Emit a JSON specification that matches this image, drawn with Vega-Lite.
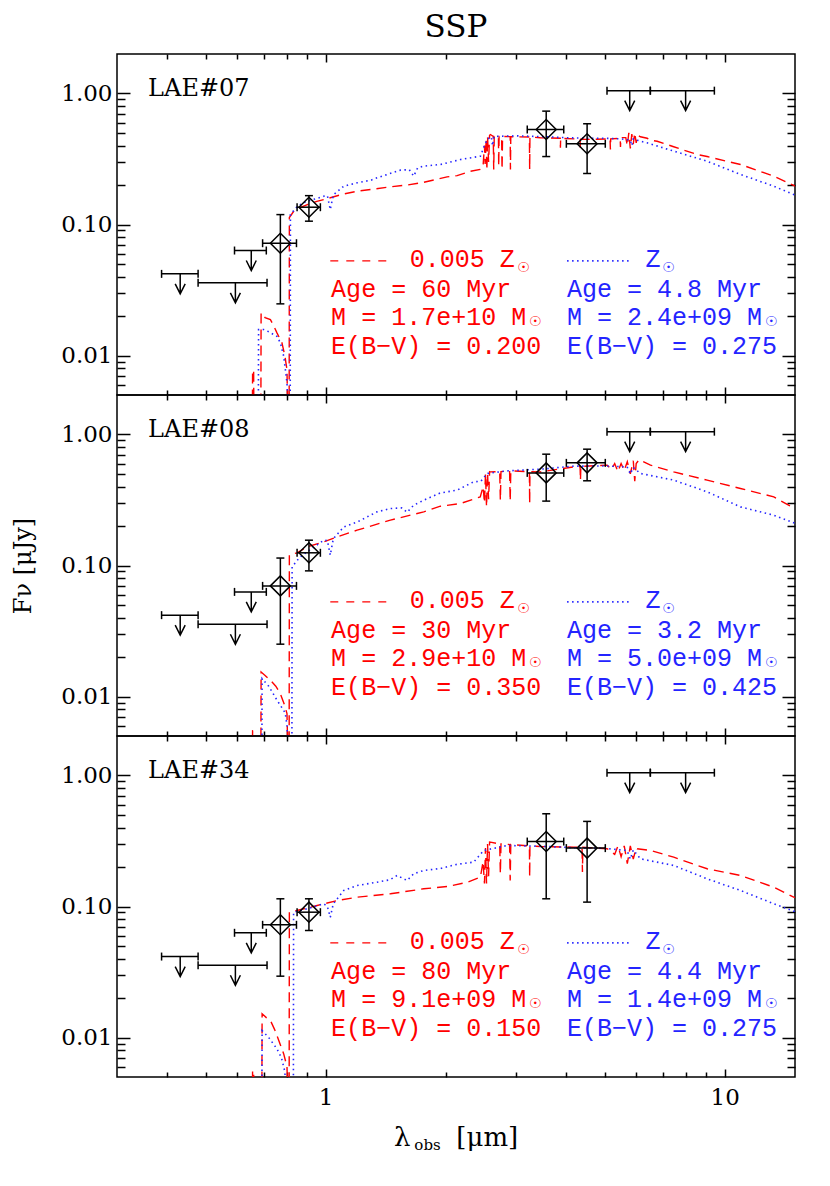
{
"$schema":"https://vega.github.io/schema/vega-lite/v6.json",
"background":"white",
"padding":{"left":11,"top":11,"right":34,"bottom":30},
"title":{"text":"SSP","font":"DejaVu Serif","fontSize":31,"fontWeight":"normal","color":"black","anchor":"middle","frame":"group","offset":9},
"spacing":0,
"bounds":"flush",
"config":{
 "view":{"stroke":"black","strokeWidth":1.5},
 "axis":{"grid":false,"domain":false,"ticks":true,"tickColor":"black","tickWidth":1.5,"labelFont":"DejaVu Serif","labelFontSize":23,"labelColor":"black","titleFont":"DejaVu Serif","titleFontSize":24,"titleFontWeight":"normal","titleColor":"black"}
},
"vconcat":[
{
 "width":678,"height":341,
 "resolve":{"axis":{"x":"independent","y":"independent"}},
 "data":{"values":[
  {"k":"d","x":0.770,"y":0.0720,"xlo":0.695,"xhi":0.845,"ylo":0.0248,"yhi":0.119},
  {"k":"d","x":0.908,"y":0.1355,"xlo":0.848,"xhi":0.970,"ylo":0.106,"yhi":0.166},
  {"k":"d","x":3.57,"y":0.531,"xlo":3.20,"xhi":3.95,"ylo":0.330,"yhi":0.733},
  {"k":"d","x":4.52,"y":0.413,"xlo":4.01,"xhi":5.02,"ylo":0.245,"yhi":0.587},
  {"k":"u","x":0.432,"y":0.042,"xlo":0.388,"xhi":0.479},
  {"k":"u","x":0.594,"y":0.0359,"xlo":0.479,"xhi":0.713},
  {"k":"u","x":0.651,"y":0.0633,"xlo":0.591,"xhi":0.710},
  {"k":"u","x":5.78,"y":1.05,"xlo":5.07,"xhi":6.51},
  {"k":"u","x":7.98,"y":1.05,"xlo":6.51,"xhi":9.42}
 ]},
 "layer":[
  {"data":{"values":[
   {"x":0.3,"y":0.003},{"x":0.655,"y":0.003},{"x":0.656,"y":0.0078},{"x":0.66,"y":0.0076},{"x":0.661,"y":0.003},{"x":0.688,"y":0.003},{"x":0.689,"y":0.0212},{"x":0.705,"y":0.0195},{"x":0.727,"y":0.0188},{"x":0.74,"y":0.017},{"x":0.755,"y":0.0149},{"x":0.777,"y":0.0125},{"x":0.79,"y":0.01},{"x":0.8,"y":0.0078},{"x":0.804,"y":0.003},{"x":0.81,"y":0.003},{"x":0.811,"y":0.1131},{"x":0.83,"y":0.125},{"x":0.848,"y":0.1318},{"x":0.9,"y":0.142},{"x":0.95,"y":0.15},{"x":0.989,"y":0.155},{"x":1.027,"y":0.16},{"x":1.1,"y":0.17},{"x":1.199,"y":0.1795},{"x":1.3,"y":0.185},{"x":1.453,"y":0.194},{"x":1.6,"y":0.2},{"x":1.761,"y":0.21},{"x":2.015,"y":0.231},{"x":2.135,"y":0.236},{"x":2.305,"y":0.255},{"x":2.44,"y":0.263},{"x":2.48,"y":0.279},{"x":2.5,"y":0.4},{"x":2.51,"y":0.29},{"x":2.525,"y":0.45},{"x":2.535,"y":0.26},{"x":2.545,"y":0.47},{"x":2.56,"y":0.3},{"x":2.575,"y":0.48},{"x":2.587,"y":0.486},{"x":2.63,"y":0.47},{"x":2.637,"y":0.263},{"x":2.645,"y":0.47},{"x":2.71,"y":0.47},{"x":2.714,"y":0.279},{"x":2.72,"y":0.47},{"x":2.76,"y":0.47},{"x":2.767,"y":0.263},{"x":2.775,"y":0.47},{"x":2.9,"y":0.468},{"x":2.904,"y":0.263},{"x":2.91,"y":0.468},{"x":3.24,"y":0.465},{"x":3.245,"y":0.263},{"x":3.25,"y":0.465},{"x":3.45,"y":0.459},{"x":3.87,"y":0.455},{"x":3.875,"y":0.385},{"x":3.88,"y":0.455},{"x":4.34,"y":0.448},{"x":4.347,"y":0.385},{"x":4.355,"y":0.448},{"x":4.52,"y":0.446},{"x":5.16,"y":0.45},{"x":5.17,"y":0.374},{"x":5.18,"y":0.45},{"x":5.47,"y":0.455},{"x":5.48,"y":0.39},{"x":5.49,"y":0.46},{"x":5.65,"y":0.46},{"x":5.7,"y":0.4},{"x":5.75,"y":0.5},{"x":5.8,"y":0.38},{"x":5.85,"y":0.49},{"x":5.9,"y":0.41},{"x":5.95,"y":0.5},{"x":6.0,"y":0.42},{"x":6.05,"y":0.48},{"x":6.148,"y":0.467},{"x":6.39,"y":0.455},{"x":6.515,"y":0.44},{"x":6.772,"y":0.432},{"x":7.45,"y":0.392},{"x":8.528,"y":0.342},{"x":9.035,"y":0.33},{"x":10.95,"y":0.287},{"x":13.27,"y":0.234},{"x":14.89,"y":0.1985},{"x":15.0,"y":0.196}
  ]},
  "mark":{"type":"line","color":"#ff0000","strokeWidth":1.4,"strokeDash":[10,6],"clip":true},
  "encoding":{
   "x":{"field":"x","type":"quantitative","scale":{"type":"log","domain":[0.3,15],"nice":false},"axis":{"orient":"bottom","values":[1,10],"tickSize":-8,"labels":false,"title":null}},
   "y":{"field":"y","type":"quantitative","scale":{"type":"log","domain":[0.005,2],"nice":false},"axis":{"orient":"left","values":[0.01,0.1,1],"tickSize":-13,"format":".2f","labelPadding":18,"title":null}}}},
  {"data":{"values":[
   {"x":0.3,"y":0.003},{"x":0.678,"y":0.003},{"x":0.679,"y":0.0158},{"x":0.699,"y":0.0158},{"x":0.72,"y":0.0152},{"x":0.755,"y":0.014},{"x":0.77,"y":0.0125},{"x":0.785,"y":0.0099},{"x":0.8,"y":0.0062},{"x":0.807,"y":0.003},{"x":0.815,"y":0.003},{"x":0.816,"y":0.1193},{"x":0.85,"y":0.138},{"x":0.898,"y":0.1507},{"x":0.95,"y":0.158},{"x":0.989,"y":0.1644},{"x":1.01,"y":0.166},{"x":1.027,"y":0.13},{"x":1.045,"y":0.168},{"x":1.11,"y":0.196},{"x":1.199,"y":0.208},{"x":1.3,"y":0.218},{"x":1.345,"y":0.227},{"x":1.45,"y":0.245},{"x":1.539,"y":0.26},{"x":1.62,"y":0.262},{"x":1.662,"y":0.234},{"x":1.7,"y":0.27},{"x":1.761,"y":0.279},{"x":1.939,"y":0.287},{"x":2.176,"y":0.313},{"x":2.442,"y":0.332},{"x":2.5,"y":0.4},{"x":2.538,"y":0.446},{"x":2.6,"y":0.467},{"x":2.62,"y":0.4},{"x":2.64,"y":0.47},{"x":3.0,"y":0.475},{"x":3.5,"y":0.468},{"x":4.0,"y":0.46},{"x":4.5,"y":0.455},{"x":5.0,"y":0.455},{"x":5.5,"y":0.45},{"x":5.8,"y":0.44},{"x":5.85,"y":0.4},{"x":5.9,"y":0.45},{"x":6.148,"y":0.432},{"x":6.391,"y":0.42},{"x":7.45,"y":0.363},{"x":9.035,"y":0.304},{"x":10.95,"y":0.241},{"x":13.27,"y":0.196},{"x":14.89,"y":0.1694},{"x":15.0,"y":0.168}
  ]},
  "mark":{"type":"line","color":"#2424ff","strokeWidth":1.6,"strokeDash":[1.5,3.5],"clip":true},
  "encoding":{
   "x":{"field":"x","type":"quantitative","scale":{"type":"log","domain":[0.3,15],"nice":false},"axis":{"orient":"bottom","values":[0.4,0.5,0.6,0.7,0.8,0.9,2,3,4,5,6,7,8,9],"tickSize":-5,"labels":false,"title":null}},
   "y":{"field":"y","type":"quantitative","scale":{"type":"log","domain":[0.005,2],"nice":false},"axis":{"orient":"left","values":[0.006,0.007,0.008,0.009,0.02,0.03,0.04,0.05,0.06,0.07,0.08,0.09,0.2,0.3,0.4,0.5,0.6,0.7,0.8,0.9],"tickSize":-8,"labels":false,"title":null}}}},
  {"transform":[{"filter":"datum.k=='d'||datum.k=='u'"}],
   "mark":{"type":"rule","color":"black","strokeWidth":1.5},
   "encoding":{
    "x":{"field":"xlo","type":"quantitative","scale":{"type":"log","domain":[0.3,15],"nice":false},"axis":{"orient":"top","values":[1,10],"tickSize":-8,"labels":false,"title":null}},
    "x2":{"field":"xhi"},
    "y":{"field":"y","type":"quantitative","scale":{"type":"log","domain":[0.005,2],"nice":false},"axis":{"orient":"right","values":[0.01,0.1,1],"tickSize":-13,"labels":false,"title":null}}}},
  {"transform":[{"filter":"datum.k=='d'"}],
   "mark":{"type":"rule","color":"black","strokeWidth":1.5},
   "encoding":{
    "x":{"field":"x","type":"quantitative","scale":{"type":"log","domain":[0.3,15],"nice":false},"axis":{"orient":"top","values":[0.4,0.5,0.6,0.7,0.8,0.9,2,3,4,5,6,7,8,9],"tickSize":-5,"labels":false,"title":null}},
    "y":{"field":"ylo","type":"quantitative","scale":{"type":"log","domain":[0.005,2],"nice":false},"axis":{"orient":"right","values":[0.006,0.007,0.008,0.009,0.02,0.03,0.04,0.05,0.06,0.07,0.08,0.09,0.2,0.3,0.4,0.5,0.6,0.7,0.8,0.9],"tickSize":-8,"labels":false,"title":null}},
    "y2":{"field":"yhi"}}},
  {"transform":[{"filter":"datum.k=='d'||datum.k=='u'"}],
   "mark":{"type":"point","shape":"M0,-1L0,1","size":64,"filled":false,"color":"black","strokeWidth":1.5,"opacity":1},
   "encoding":{"x":{"field":"xlo","type":"quantitative","scale":{"type":"log","domain":[0.3,15],"nice":false},"axis":null},"y":{"field":"y","type":"quantitative","scale":{"type":"log","domain":[0.005,2],"nice":false},"axis":null}}},
  {"transform":[{"filter":"datum.k=='d'||datum.k=='u'"}],
   "mark":{"type":"point","shape":"M0,-1L0,1","size":64,"filled":false,"color":"black","strokeWidth":1.5,"opacity":1},
   "encoding":{"x":{"field":"xhi","type":"quantitative","scale":{"type":"log","domain":[0.3,15],"nice":false},"axis":null},"y":{"field":"y","type":"quantitative","scale":{"type":"log","domain":[0.005,2],"nice":false},"axis":null}}},
  {"transform":[{"filter":"datum.k=='d'"}],
   "mark":{"type":"point","shape":"M-1,0L1,0","size":64,"filled":false,"color":"black","strokeWidth":1.5,"opacity":1},
   "encoding":{"x":{"field":"x","type":"quantitative","scale":{"type":"log","domain":[0.3,15],"nice":false},"axis":null},"y":{"field":"ylo","type":"quantitative","scale":{"type":"log","domain":[0.005,2],"nice":false},"axis":null}}},
  {"transform":[{"filter":"datum.k=='d'"}],
   "mark":{"type":"point","shape":"M-1,0L1,0","size":64,"filled":false,"color":"black","strokeWidth":1.5,"opacity":1},
   "encoding":{"x":{"field":"x","type":"quantitative","scale":{"type":"log","domain":[0.3,15],"nice":false},"axis":null},"y":{"field":"yhi","type":"quantitative","scale":{"type":"log","domain":[0.005,2],"nice":false},"axis":null}}},
  {"transform":[{"filter":"datum.k=='d'"}],
   "mark":{"type":"point","shape":"diamond","size":400,"filled":false,"color":"black","strokeWidth":1.5,"opacity":1},
   "encoding":{"x":{"field":"x","type":"quantitative","scale":{"type":"log","domain":[0.3,15],"nice":false},"axis":null},"y":{"field":"y","type":"quantitative","scale":{"type":"log","domain":[0.005,2],"nice":false},"axis":null}}},
  {"transform":[{"filter":"datum.k=='u'"}],
   "mark":{"type":"point","shape":"M0,0L0,2M-0.5,1L0,2L0.5,1","size":400,"filled":false,"color":"black","strokeWidth":1.5,"opacity":1},
   "encoding":{"x":{"field":"x","type":"quantitative","scale":{"type":"log","domain":[0.3,15],"nice":false},"axis":null},"y":{"field":"y","type":"quantitative","scale":{"type":"log","domain":[0.005,2],"nice":false},"axis":null}}},
  {"data":{"values":[{"x":1.027,"y":0.0528},{"x":1.453,"y":0.0528}]},
   "mark":{"type":"line","color":"#ff0000","strokeWidth":1.4,"strokeDash":[8,8]},
   "encoding":{"x":{"field":"x","type":"quantitative","scale":{"type":"log","domain":[0.3,15],"nice":false},"axis":null},"y":{"field":"y","type":"quantitative","scale":{"type":"log","domain":[0.005,2],"nice":false},"axis":null}}},
  {"data":{"values":[{"x":4.027,"y":0.0528},{"x":5.747,"y":0.0528}]},
   "mark":{"type":"line","color":"#2424ff","strokeWidth":1.6,"strokeDash":[1.5,3.5]},
   "encoding":{"x":{"field":"x","type":"quantitative","scale":{"type":"log","domain":[0.3,15],"nice":false},"axis":null},"y":{"field":"y","type":"quantitative","scale":{"type":"log","domain":[0.005,2],"nice":false},"axis":null}}},
  {"data":{"values":[
   {"m":"r","x":1.624,"y":0.04754,"t":"0.005 Z"},{"m":"r","x":1.032,"y":0.02821,"t":"Age = 60 Myr"},{"m":"r","x":1.032,"y":0.01725,"t":"M = 1.7e+10 M"},{"m":"r","x":1.032,"y":0.01036,"t":"E(B−V) = 0.200"},
   {"m":"b","x":6.327,"y":0.04754,"t":"Z"},{"m":"b","x":4.027,"y":0.02821,"t":"Age = 4.8 Myr"},{"m":"b","x":4.027,"y":0.01725,"t":"M = 2.4e+09 M"},{"m":"b","x":4.027,"y":0.01036,"t":"E(B−V) = 0.275"}
  ]},
   "mark":{"type":"text","font":"Liberation Mono","fontSize":25,"align":"left","baseline":"alphabetic"},
   "encoding":{"x":{"field":"x","type":"quantitative","scale":{"type":"log","domain":[0.3,15],"nice":false},"axis":null},"y":{"field":"y","type":"quantitative","scale":{"type":"log","domain":[0.005,2],"nice":false},"axis":null},"text":{"field":"t","type":"nominal"},
    "color":{"field":"m","type":"nominal","scale":{"domain":["r","b"],"range":["#ff0000","#2424ff"]},"legend":null}}},
  {"data":{"values":[{"m":"r","x":3.13,"y":0.04695},{"m":"r","x":3.354,"y":0.0179},{"m":"b","x":7.226,"y":0.04695},{"m":"b","x":13.09,"y":0.0179}]},
   "mark":{"type":"text","text":"☉","font":"DejaVu Sans","fontSize":14,"align":"center","baseline":"middle"},
   "encoding":{"x":{"field":"x","type":"quantitative","scale":{"type":"log","domain":[0.3,15],"nice":false},"axis":null},"y":{"field":"y","type":"quantitative","scale":{"type":"log","domain":[0.005,2],"nice":false},"axis":null},
    "color":{"field":"m","type":"nominal","scale":{"domain":["r","b"],"range":["#ff0000","#2424ff"]},"legend":null}}},
  {"data":{"values":[{"x":0.359,"y":0.95,"t":"LAE#07"}]},
   "mark":{"type":"text","font":"DejaVu Serif","fontSize":24,"align":"left","baseline":"alphabetic","color":"black"},
   "encoding":{"x":{"field":"x","type":"quantitative","scale":{"type":"log","domain":[0.3,15],"nice":false},"axis":null},"y":{"field":"y","type":"quantitative","scale":{"type":"log","domain":[0.005,2],"nice":false},"axis":null},"text":{"field":"t","type":"nominal"}}}
 ]
},
{
 "width":678,"height":341,
 "resolve":{"axis":{"x":"independent","y":"independent"}},
 "data":{"values":[
  {"k":"d","x":0.770,"y":0.0699,"xlo":0.695,"xhi":0.845,"ylo":0.0251,"yhi":0.114},
  {"k":"d","x":0.908,"y":0.125,"xlo":0.848,"xhi":0.970,"ylo":0.091,"yhi":0.156},
  {"k":"d","x":3.57,"y":0.509,"xlo":3.20,"xhi":3.95,"ylo":0.310,"yhi":0.707},
  {"k":"d","x":4.52,"y":0.607,"xlo":4.01,"xhi":5.02,"ylo":0.443,"yhi":0.772},
  {"k":"u","x":0.432,"y":0.0418,"xlo":0.388,"xhi":0.479},
  {"k":"u","x":0.594,"y":0.0356,"xlo":0.479,"xhi":0.713},
  {"k":"u","x":0.651,"y":0.0629,"xlo":0.591,"xhi":0.710},
  {"k":"u","x":5.78,"y":1.05,"xlo":5.07,"xhi":6.51},
  {"k":"u","x":7.98,"y":1.05,"xlo":6.51,"xhi":9.42}
 ]},
 "layer":[
  {"data":{"values":[
   {"x":0.3,"y":0.003},{"x":0.655,"y":0.003},{"x":0.656,"y":0.0055},{"x":0.66,"y":0.0055},{"x":0.661,"y":0.003},{"x":0.688,"y":0.003},{"x":0.689,"y":0.0154},{"x":0.705,"y":0.0145},{"x":0.727,"y":0.0133},{"x":0.75,"y":0.012},{"x":0.77,"y":0.0105},{"x":0.79,"y":0.0085},{"x":0.8,"y":0.0074},{"x":0.805,"y":0.003},{"x":0.81,"y":0.003},{"x":0.811,"y":0.12},{"x":0.848,"y":0.125},{"x":0.898,"y":0.1387},{"x":0.989,"y":0.1514},{"x":1.068,"y":0.1653},{"x":1.199,"y":0.186},{"x":1.453,"y":0.222},{"x":1.761,"y":0.2566},{"x":1.939,"y":0.2835},{"x":2.176,"y":0.297},{"x":2.44,"y":0.334},{"x":2.48,"y":0.4},{"x":2.5,"y":0.3},{"x":2.515,"y":0.5},{"x":2.53,"y":0.28},{"x":2.545,"y":0.51},{"x":2.56,"y":0.32},{"x":2.575,"y":0.52},{"x":2.587,"y":0.518},{"x":2.73,"y":0.52},{"x":2.74,"y":0.315},{"x":2.75,"y":0.52},{"x":2.89,"y":0.527},{"x":2.9,"y":0.31},{"x":2.91,"y":0.527},{"x":3.24,"y":0.52},{"x":3.245,"y":0.297},{"x":3.25,"y":0.52},{"x":3.452,"y":0.518},{"x":4.183,"y":0.566},{"x":4.34,"y":0.57},{"x":4.35,"y":0.448},{"x":4.36,"y":0.57},{"x":5.075,"y":0.583},{"x":5.2,"y":0.54},{"x":5.3,"y":0.6},{"x":5.4,"y":0.52},{"x":5.5,"y":0.6},{"x":5.6,"y":0.53},{"x":5.7,"y":0.62},{"x":5.8,"y":0.5},{"x":5.9,"y":0.63},{"x":5.95,"y":0.44},{"x":6.0,"y":0.6},{"x":6.1,"y":0.64},{"x":6.148,"y":0.637},{"x":6.515,"y":0.583},{"x":7.45,"y":0.518},{"x":9.035,"y":0.448},{"x":10.95,"y":0.387},{"x":13.27,"y":0.334},{"x":14.61,"y":0.2835},{"x":15.0,"y":0.275}
  ]},
  "mark":{"type":"line","color":"#ff0000","strokeWidth":1.4,"strokeDash":[10,6],"clip":true},
  "encoding":{
   "x":{"field":"x","type":"quantitative","scale":{"type":"log","domain":[0.3,15],"nice":false},"axis":{"orient":"bottom","values":[1,10],"tickSize":-8,"labels":false,"title":null}},
   "y":{"field":"y","type":"quantitative","scale":{"type":"log","domain":[0.005,2],"nice":false},"axis":{"orient":"left","values":[0.01,0.1,1],"tickSize":-13,"format":".2f","labelPadding":18,"title":"Fν [μJy]","titlePadding":25}}}},
  {"data":{"values":[
   {"x":0.3,"y":0.003},{"x":0.692,"y":0.003},{"x":0.693,"y":0.0137},{"x":0.72,"y":0.012},{"x":0.755,"y":0.0094},{"x":0.792,"y":0.0075},{"x":0.8,"y":0.006},{"x":0.807,"y":0.003},{"x":0.823,"y":0.003},{"x":0.824,"y":0.0976},{"x":0.86,"y":0.115},{"x":0.898,"y":0.127},{"x":0.95,"y":0.143},{"x":0.989,"y":0.156},{"x":1.01,"y":0.155},{"x":1.027,"y":0.12},{"x":1.045,"y":0.16},{"x":1.11,"y":0.197},{"x":1.2,"y":0.215},{"x":1.345,"y":0.2566},{"x":1.453,"y":0.272},{"x":1.55,"y":0.275},{"x":1.6,"y":0.255},{"x":1.662,"y":0.2886},{"x":1.761,"y":0.315},{"x":1.939,"y":0.358},{"x":2.135,"y":0.376},{"x":2.349,"y":0.435},{"x":2.45,"y":0.44},{"x":2.538,"y":0.504},{"x":2.849,"y":0.527},{"x":3.5,"y":0.545},{"x":4.183,"y":0.573},{"x":5.0,"y":0.575},{"x":5.692,"y":0.566},{"x":5.8,"y":0.5},{"x":5.9,"y":0.56},{"x":6.148,"y":0.504},{"x":7.45,"y":0.448},{"x":9.035,"y":0.365},{"x":10.95,"y":0.28},{"x":13.27,"y":0.242},{"x":14.89,"y":0.2115},{"x":15.0,"y":0.21}
  ]},
  "mark":{"type":"line","color":"#2424ff","strokeWidth":1.6,"strokeDash":[1.5,3.5],"clip":true},
  "encoding":{
   "x":{"field":"x","type":"quantitative","scale":{"type":"log","domain":[0.3,15],"nice":false},"axis":{"orient":"bottom","values":[0.4,0.5,0.6,0.7,0.8,0.9,2,3,4,5,6,7,8,9],"tickSize":-5,"labels":false,"title":null}},
   "y":{"field":"y","type":"quantitative","scale":{"type":"log","domain":[0.005,2],"nice":false},"axis":{"orient":"left","values":[0.006,0.007,0.008,0.009,0.02,0.03,0.04,0.05,0.06,0.07,0.08,0.09,0.2,0.3,0.4,0.5,0.6,0.7,0.8,0.9],"tickSize":-8,"labels":false,"title":null}}}},
  {"transform":[{"filter":"datum.k=='d'||datum.k=='u'"}],
   "mark":{"type":"rule","color":"black","strokeWidth":1.5},
   "encoding":{
    "x":{"field":"xlo","type":"quantitative","scale":{"type":"log","domain":[0.3,15],"nice":false},"axis":{"orient":"top","values":[1,10],"tickSize":-8,"labels":false,"title":null}},
    "x2":{"field":"xhi"},
    "y":{"field":"y","type":"quantitative","scale":{"type":"log","domain":[0.005,2],"nice":false},"axis":{"orient":"right","values":[0.01,0.1,1],"tickSize":-13,"labels":false,"title":null}}}},
  {"transform":[{"filter":"datum.k=='d'"}],
   "mark":{"type":"rule","color":"black","strokeWidth":1.5},
   "encoding":{
    "x":{"field":"x","type":"quantitative","scale":{"type":"log","domain":[0.3,15],"nice":false},"axis":{"orient":"top","values":[0.4,0.5,0.6,0.7,0.8,0.9,2,3,4,5,6,7,8,9],"tickSize":-5,"labels":false,"title":null}},
    "y":{"field":"ylo","type":"quantitative","scale":{"type":"log","domain":[0.005,2],"nice":false},"axis":{"orient":"right","values":[0.006,0.007,0.008,0.009,0.02,0.03,0.04,0.05,0.06,0.07,0.08,0.09,0.2,0.3,0.4,0.5,0.6,0.7,0.8,0.9],"tickSize":-8,"labels":false,"title":null}},
    "y2":{"field":"yhi"}}},
  {"transform":[{"filter":"datum.k=='d'||datum.k=='u'"}],
   "mark":{"type":"point","shape":"M0,-1L0,1","size":64,"filled":false,"color":"black","strokeWidth":1.5,"opacity":1},
   "encoding":{"x":{"field":"xlo","type":"quantitative","scale":{"type":"log","domain":[0.3,15],"nice":false},"axis":null},"y":{"field":"y","type":"quantitative","scale":{"type":"log","domain":[0.005,2],"nice":false},"axis":null}}},
  {"transform":[{"filter":"datum.k=='d'||datum.k=='u'"}],
   "mark":{"type":"point","shape":"M0,-1L0,1","size":64,"filled":false,"color":"black","strokeWidth":1.5,"opacity":1},
   "encoding":{"x":{"field":"xhi","type":"quantitative","scale":{"type":"log","domain":[0.3,15],"nice":false},"axis":null},"y":{"field":"y","type":"quantitative","scale":{"type":"log","domain":[0.005,2],"nice":false},"axis":null}}},
  {"transform":[{"filter":"datum.k=='d'"}],
   "mark":{"type":"point","shape":"M-1,0L1,0","size":64,"filled":false,"color":"black","strokeWidth":1.5,"opacity":1},
   "encoding":{"x":{"field":"x","type":"quantitative","scale":{"type":"log","domain":[0.3,15],"nice":false},"axis":null},"y":{"field":"ylo","type":"quantitative","scale":{"type":"log","domain":[0.005,2],"nice":false},"axis":null}}},
  {"transform":[{"filter":"datum.k=='d'"}],
   "mark":{"type":"point","shape":"M-1,0L1,0","size":64,"filled":false,"color":"black","strokeWidth":1.5,"opacity":1},
   "encoding":{"x":{"field":"x","type":"quantitative","scale":{"type":"log","domain":[0.3,15],"nice":false},"axis":null},"y":{"field":"yhi","type":"quantitative","scale":{"type":"log","domain":[0.005,2],"nice":false},"axis":null}}},
  {"transform":[{"filter":"datum.k=='d'"}],
   "mark":{"type":"point","shape":"diamond","size":400,"filled":false,"color":"black","strokeWidth":1.5,"opacity":1},
   "encoding":{"x":{"field":"x","type":"quantitative","scale":{"type":"log","domain":[0.3,15],"nice":false},"axis":null},"y":{"field":"y","type":"quantitative","scale":{"type":"log","domain":[0.005,2],"nice":false},"axis":null}}},
  {"transform":[{"filter":"datum.k=='u'"}],
   "mark":{"type":"point","shape":"M0,0L0,2M-0.5,1L0,2L0.5,1","size":400,"filled":false,"color":"black","strokeWidth":1.5,"opacity":1},
   "encoding":{"x":{"field":"x","type":"quantitative","scale":{"type":"log","domain":[0.3,15],"nice":false},"axis":null},"y":{"field":"y","type":"quantitative","scale":{"type":"log","domain":[0.005,2],"nice":false},"axis":null}}},
  {"data":{"values":[{"x":1.027,"y":0.0528},{"x":1.453,"y":0.0528}]},
   "mark":{"type":"line","color":"#ff0000","strokeWidth":1.4,"strokeDash":[8,8]},
   "encoding":{"x":{"field":"x","type":"quantitative","scale":{"type":"log","domain":[0.3,15],"nice":false},"axis":null},"y":{"field":"y","type":"quantitative","scale":{"type":"log","domain":[0.005,2],"nice":false},"axis":null}}},
  {"data":{"values":[{"x":4.027,"y":0.0528},{"x":5.747,"y":0.0528}]},
   "mark":{"type":"line","color":"#2424ff","strokeWidth":1.6,"strokeDash":[1.5,3.5]},
   "encoding":{"x":{"field":"x","type":"quantitative","scale":{"type":"log","domain":[0.3,15],"nice":false},"axis":null},"y":{"field":"y","type":"quantitative","scale":{"type":"log","domain":[0.005,2],"nice":false},"axis":null}}},
  {"data":{"values":[
   {"m":"r","x":1.624,"y":0.04754,"t":"0.005 Z"},{"m":"r","x":1.032,"y":0.02821,"t":"Age = 30 Myr"},{"m":"r","x":1.032,"y":0.01725,"t":"M = 2.9e+10 M"},{"m":"r","x":1.032,"y":0.01036,"t":"E(B−V) = 0.350"},
   {"m":"b","x":6.327,"y":0.04754,"t":"Z"},{"m":"b","x":4.027,"y":0.02821,"t":"Age = 3.2 Myr"},{"m":"b","x":4.027,"y":0.01725,"t":"M = 5.0e+09 M"},{"m":"b","x":4.027,"y":0.01036,"t":"E(B−V) = 0.425"}
  ]},
   "mark":{"type":"text","font":"Liberation Mono","fontSize":25,"align":"left","baseline":"alphabetic"},
   "encoding":{"x":{"field":"x","type":"quantitative","scale":{"type":"log","domain":[0.3,15],"nice":false},"axis":null},"y":{"field":"y","type":"quantitative","scale":{"type":"log","domain":[0.005,2],"nice":false},"axis":null},"text":{"field":"t","type":"nominal"},
    "color":{"field":"m","type":"nominal","scale":{"domain":["r","b"],"range":["#ff0000","#2424ff"]},"legend":null}}},
  {"data":{"values":[{"m":"r","x":3.13,"y":0.04695},{"m":"r","x":3.354,"y":0.0179},{"m":"b","x":7.226,"y":0.04695},{"m":"b","x":13.09,"y":0.0179}]},
   "mark":{"type":"text","text":"☉","font":"DejaVu Sans","fontSize":14,"align":"center","baseline":"middle"},
   "encoding":{"x":{"field":"x","type":"quantitative","scale":{"type":"log","domain":[0.3,15],"nice":false},"axis":null},"y":{"field":"y","type":"quantitative","scale":{"type":"log","domain":[0.005,2],"nice":false},"axis":null},
    "color":{"field":"m","type":"nominal","scale":{"domain":["r","b"],"range":["#ff0000","#2424ff"]},"legend":null}}},
  {"data":{"values":[{"x":0.359,"y":0.95,"t":"LAE#08"}]},
   "mark":{"type":"text","font":"DejaVu Serif","fontSize":24,"align":"left","baseline":"alphabetic","color":"black"},
   "encoding":{"x":{"field":"x","type":"quantitative","scale":{"type":"log","domain":[0.3,15],"nice":false},"axis":null},"y":{"field":"y","type":"quantitative","scale":{"type":"log","domain":[0.005,2],"nice":false},"axis":null},"text":{"field":"t","type":"nominal"}}}
 ]
},
{
 "width":678,"height":341,
 "resolve":{"axis":{"x":"independent","y":"independent"}},
 "data":{"values":[
  {"k":"d","x":0.770,"y":0.0725,"xlo":0.695,"xhi":0.845,"ylo":0.0294,"yhi":0.1145},
  {"k":"d","x":0.908,"y":0.0905,"xlo":0.848,"xhi":0.970,"ylo":0.0656,"yhi":0.1145},
  {"k":"d","x":3.57,"y":0.313,"xlo":3.20,"xhi":3.95,"ylo":0.1145,"yhi":0.510},
  {"k":"d","x":4.52,"y":0.279,"xlo":4.01,"xhi":5.02,"ylo":0.108,"yhi":0.446},
  {"k":"u","x":0.432,"y":0.0415,"xlo":0.388,"xhi":0.479},
  {"k":"u","x":0.594,"y":0.0356,"xlo":0.479,"xhi":0.713},
  {"k":"u","x":0.651,"y":0.063,"xlo":0.591,"xhi":0.710},
  {"k":"u","x":5.78,"y":1.05,"xlo":5.07,"xhi":6.51},
  {"k":"u","x":7.98,"y":1.05,"xlo":6.51,"xhi":9.42}
 ]},
 "layer":[
  {"data":{"values":[
   {"x":0.3,"y":0.003},{"x":0.655,"y":0.003},{"x":0.656,"y":0.0056},{"x":0.66,"y":0.0056},{"x":0.661,"y":0.003},{"x":0.692,"y":0.003},{"x":0.693,"y":0.0152},{"x":0.71,"y":0.0142},{"x":0.727,"y":0.0135},{"x":0.745,"y":0.0115},{"x":0.763,"y":0.0095},{"x":0.785,"y":0.0075},{"x":0.8,"y":0.006},{"x":0.805,"y":0.003},{"x":0.81,"y":0.003},{"x":0.811,"y":0.0905},{"x":0.848,"y":0.0932},{"x":0.952,"y":0.1018},{"x":1.068,"y":0.111},{"x":1.199,"y":0.1178},{"x":1.453,"y":0.125},{"x":1.761,"y":0.1365},{"x":2.015,"y":0.142},{"x":2.262,"y":0.153},{"x":2.442,"y":0.1675},{"x":2.48,"y":0.22},{"x":2.5,"y":0.15},{"x":2.515,"y":0.28},{"x":2.53,"y":0.15},{"x":2.545,"y":0.3},{"x":2.56,"y":0.17},{"x":2.575,"y":0.31},{"x":2.587,"y":0.3096},{"x":2.73,"y":0.3},{"x":2.74,"y":0.178},{"x":2.75,"y":0.3},{"x":2.89,"y":0.297},{"x":2.9,"y":0.158},{"x":2.91,"y":0.297},{"x":3.24,"y":0.29},{"x":3.245,"y":0.168},{"x":3.25,"y":0.29},{"x":3.452,"y":0.287},{"x":4.183,"y":0.2835},{"x":4.39,"y":0.283},{"x":4.4,"y":0.183},{"x":4.41,"y":0.283},{"x":5.075,"y":0.2758},{"x":5.3,"y":0.25},{"x":5.4,"y":0.29},{"x":5.5,"y":0.24},{"x":5.6,"y":0.29},{"x":5.7,"y":0.212},{"x":5.8,"y":0.29},{"x":5.9,"y":0.23},{"x":6.0,"y":0.28},{"x":6.032,"y":0.2758},{"x":6.515,"y":0.2677},{"x":7.45,"y":0.2378},{"x":9.035,"y":0.194},{"x":10.95,"y":0.1725},{"x":13.27,"y":0.1404},{"x":14.89,"y":0.1178},{"x":15.0,"y":0.117}
  ]},
  "mark":{"type":"line","color":"#ff0000","strokeWidth":1.4,"strokeDash":[10,6],"clip":true},
  "encoding":{
   "x":{"field":"x","type":"quantitative","scale":{"type":"log","domain":[0.3,15],"nice":false},"axis":{"orient":"bottom","values":[1,10],"tickSize":-8,"labels":true,"format":"d","labelPadding":17,"title":null}},
   "y":{"field":"y","type":"quantitative","scale":{"type":"log","domain":[0.005,2],"nice":false},"axis":{"orient":"left","values":[0.01,0.1,1],"tickSize":-13,"format":".2f","labelPadding":18,"title":null}}}},
  {"data":{"values":[
   {"x":0.3,"y":0.003},{"x":0.692,"y":0.003},{"x":0.693,"y":0.0113},{"x":0.72,"y":0.01},{"x":0.755,"y":0.0082},{"x":0.775,"y":0.007},{"x":0.79,"y":0.0055},{"x":0.8,"y":0.003},{"x":0.83,"y":0.003},{"x":0.831,"y":0.0905},{"x":0.898,"y":0.096},{"x":0.989,"y":0.105},{"x":1.01,"y":0.1},{"x":1.027,"y":0.0828},{"x":1.045,"y":0.105},{"x":1.11,"y":0.1325},{"x":1.199,"y":0.1446},{"x":1.345,"y":0.1533},{"x":1.45,"y":0.16},{"x":1.51,"y":0.1725},{"x":1.6,"y":0.158},{"x":1.662,"y":0.178},{"x":1.761,"y":0.1883},{"x":1.939,"y":0.195},{"x":2.135,"y":0.21},{"x":2.349,"y":0.218},{"x":2.489,"y":0.2677},{"x":2.849,"y":0.292},{"x":3.5,"y":0.288},{"x":4.183,"y":0.2807},{"x":5.0,"y":0.278},{"x":5.692,"y":0.2677},{"x":5.8,"y":0.23},{"x":5.9,"y":0.27},{"x":6.148,"y":0.2312},{"x":7.45,"y":0.2056},{"x":9.035,"y":0.1627},{"x":10.95,"y":0.1325},{"x":13.27,"y":0.105},{"x":14.89,"y":0.0921},{"x":15.0,"y":0.092}
  ]},
  "mark":{"type":"line","color":"#2424ff","strokeWidth":1.6,"strokeDash":[1.5,3.5],"clip":true},
  "encoding":{
   "x":{"field":"x","type":"quantitative","scale":{"type":"log","domain":[0.3,15],"nice":false},"axis":{"orient":"bottom","values":[0.4,0.5,0.6,0.7,0.8,0.9,2,3,4,5,6,7,8,9],"tickSize":-5,"labels":false,"title":null}},
   "y":{"field":"y","type":"quantitative","scale":{"type":"log","domain":[0.005,2],"nice":false},"axis":{"orient":"left","values":[0.006,0.007,0.008,0.009,0.02,0.03,0.04,0.05,0.06,0.07,0.08,0.09,0.2,0.3,0.4,0.5,0.6,0.7,0.8,0.9],"tickSize":-8,"labels":false,"title":null}}}},
  {"transform":[{"filter":"datum.k=='d'||datum.k=='u'"}],
   "mark":{"type":"rule","color":"black","strokeWidth":1.5},
   "encoding":{
    "x":{"field":"xlo","type":"quantitative","scale":{"type":"log","domain":[0.3,15],"nice":false},"axis":{"orient":"top","values":[1,10],"tickSize":-8,"labels":false,"title":null}},
    "x2":{"field":"xhi"},
    "y":{"field":"y","type":"quantitative","scale":{"type":"log","domain":[0.005,2],"nice":false},"axis":{"orient":"right","values":[0.01,0.1,1],"tickSize":-13,"labels":false,"title":null}}}},
  {"transform":[{"filter":"datum.k=='d'"}],
   "mark":{"type":"rule","color":"black","strokeWidth":1.5},
   "encoding":{
    "x":{"field":"x","type":"quantitative","scale":{"type":"log","domain":[0.3,15],"nice":false},"axis":{"orient":"top","values":[0.4,0.5,0.6,0.7,0.8,0.9,2,3,4,5,6,7,8,9],"tickSize":-5,"labels":false,"title":null}},
    "y":{"field":"ylo","type":"quantitative","scale":{"type":"log","domain":[0.005,2],"nice":false},"axis":{"orient":"right","values":[0.006,0.007,0.008,0.009,0.02,0.03,0.04,0.05,0.06,0.07,0.08,0.09,0.2,0.3,0.4,0.5,0.6,0.7,0.8,0.9],"tickSize":-8,"labels":false,"title":null}},
    "y2":{"field":"yhi"}}},
  {"transform":[{"filter":"datum.k=='d'||datum.k=='u'"}],
   "mark":{"type":"point","shape":"M0,-1L0,1","size":64,"filled":false,"color":"black","strokeWidth":1.5,"opacity":1},
   "encoding":{"x":{"field":"xlo","type":"quantitative","scale":{"type":"log","domain":[0.3,15],"nice":false},"axis":null},"y":{"field":"y","type":"quantitative","scale":{"type":"log","domain":[0.005,2],"nice":false},"axis":null}}},
  {"transform":[{"filter":"datum.k=='d'||datum.k=='u'"}],
   "mark":{"type":"point","shape":"M0,-1L0,1","size":64,"filled":false,"color":"black","strokeWidth":1.5,"opacity":1},
   "encoding":{"x":{"field":"xhi","type":"quantitative","scale":{"type":"log","domain":[0.3,15],"nice":false},"axis":null},"y":{"field":"y","type":"quantitative","scale":{"type":"log","domain":[0.005,2],"nice":false},"axis":null}}},
  {"transform":[{"filter":"datum.k=='d'"}],
   "mark":{"type":"point","shape":"M-1,0L1,0","size":64,"filled":false,"color":"black","strokeWidth":1.5,"opacity":1},
   "encoding":{"x":{"field":"x","type":"quantitative","scale":{"type":"log","domain":[0.3,15],"nice":false},"axis":null},"y":{"field":"ylo","type":"quantitative","scale":{"type":"log","domain":[0.005,2],"nice":false},"axis":null}}},
  {"transform":[{"filter":"datum.k=='d'"}],
   "mark":{"type":"point","shape":"M-1,0L1,0","size":64,"filled":false,"color":"black","strokeWidth":1.5,"opacity":1},
   "encoding":{"x":{"field":"x","type":"quantitative","scale":{"type":"log","domain":[0.3,15],"nice":false},"axis":null},"y":{"field":"yhi","type":"quantitative","scale":{"type":"log","domain":[0.005,2],"nice":false},"axis":null}}},
  {"transform":[{"filter":"datum.k=='d'"}],
   "mark":{"type":"point","shape":"diamond","size":400,"filled":false,"color":"black","strokeWidth":1.5,"opacity":1},
   "encoding":{"x":{"field":"x","type":"quantitative","scale":{"type":"log","domain":[0.3,15],"nice":false},"axis":null},"y":{"field":"y","type":"quantitative","scale":{"type":"log","domain":[0.005,2],"nice":false},"axis":null}}},
  {"transform":[{"filter":"datum.k=='u'"}],
   "mark":{"type":"point","shape":"M0,0L0,2M-0.5,1L0,2L0.5,1","size":400,"filled":false,"color":"black","strokeWidth":1.5,"opacity":1},
   "encoding":{"x":{"field":"x","type":"quantitative","scale":{"type":"log","domain":[0.3,15],"nice":false},"axis":null},"y":{"field":"y","type":"quantitative","scale":{"type":"log","domain":[0.005,2],"nice":false},"axis":null}}},
  {"data":{"values":[{"x":1.027,"y":0.0528},{"x":1.453,"y":0.0528}]},
   "mark":{"type":"line","color":"#ff0000","strokeWidth":1.4,"strokeDash":[8,8]},
   "encoding":{"x":{"field":"x","type":"quantitative","scale":{"type":"log","domain":[0.3,15],"nice":false},"axis":null},"y":{"field":"y","type":"quantitative","scale":{"type":"log","domain":[0.005,2],"nice":false},"axis":null}}},
  {"data":{"values":[{"x":4.027,"y":0.0528},{"x":5.747,"y":0.0528}]},
   "mark":{"type":"line","color":"#2424ff","strokeWidth":1.6,"strokeDash":[1.5,3.5]},
   "encoding":{"x":{"field":"x","type":"quantitative","scale":{"type":"log","domain":[0.3,15],"nice":false},"axis":null},"y":{"field":"y","type":"quantitative","scale":{"type":"log","domain":[0.005,2],"nice":false},"axis":null}}},
  {"data":{"values":[
   {"m":"r","x":1.624,"y":0.04754,"t":"0.005 Z"},{"m":"r","x":1.032,"y":0.02821,"t":"Age = 80 Myr"},{"m":"r","x":1.032,"y":0.01725,"t":"M = 9.1e+09 M"},{"m":"r","x":1.032,"y":0.01036,"t":"E(B−V) = 0.150"},
   {"m":"b","x":6.327,"y":0.04754,"t":"Z"},{"m":"b","x":4.027,"y":0.02821,"t":"Age = 4.4 Myr"},{"m":"b","x":4.027,"y":0.01725,"t":"M = 1.4e+09 M"},{"m":"b","x":4.027,"y":0.01036,"t":"E(B−V) = 0.275"}
  ]},
   "mark":{"type":"text","font":"Liberation Mono","fontSize":25,"align":"left","baseline":"alphabetic"},
   "encoding":{"x":{"field":"x","type":"quantitative","scale":{"type":"log","domain":[0.3,15],"nice":false},"axis":null},"y":{"field":"y","type":"quantitative","scale":{"type":"log","domain":[0.005,2],"nice":false},"axis":null},"text":{"field":"t","type":"nominal"},
    "color":{"field":"m","type":"nominal","scale":{"domain":["r","b"],"range":["#ff0000","#2424ff"]},"legend":null}}},
  {"data":{"values":[{"m":"r","x":3.13,"y":0.04695},{"m":"r","x":3.354,"y":0.0179},{"m":"b","x":7.226,"y":0.04695},{"m":"b","x":13.09,"y":0.0179}]},
   "mark":{"type":"text","text":"☉","font":"DejaVu Sans","fontSize":14,"align":"center","baseline":"middle"},
   "encoding":{"x":{"field":"x","type":"quantitative","scale":{"type":"log","domain":[0.3,15],"nice":false},"axis":null},"y":{"field":"y","type":"quantitative","scale":{"type":"log","domain":[0.005,2],"nice":false},"axis":null},
    "color":{"field":"m","type":"nominal","scale":{"domain":["r","b"],"range":["#ff0000","#2424ff"]},"legend":null}}},
  {"data":{"values":[{"x":0.359,"y":0.95,"t":"LAE#34"}]},
   "mark":{"type":"text","font":"DejaVu Serif","fontSize":24,"align":"left","baseline":"alphabetic","color":"black"},
   "encoding":{"x":{"field":"x","type":"quantitative","scale":{"type":"log","domain":[0.3,15],"nice":false},"axis":null},"y":{"field":"y","type":"quantitative","scale":{"type":"log","domain":[0.005,2],"nice":false},"axis":null},"text":{"field":"t","type":"nominal"}}},
  {"data":{"values":[{"x":1.556,"y":0.0017,"t":"λ"},{"x":2.541,"y":0.0017,"t":"[μm]"}]},
   "mark":{"type":"text","font":"DejaVu Serif","fontSize":26,"align":"center","baseline":"middle","color":"black"},
   "encoding":{"x":{"field":"x","type":"quantitative","scale":{"type":"log","domain":[0.3,15],"nice":false},"axis":null},"y":{"field":"y","type":"quantitative","scale":{"type":"log","domain":[0.005,2],"nice":false},"axis":null},"text":{"field":"t","type":"nominal"}}},
  {"data":{"values":[{"x":1.8,"y":0.00152,"t":"obs"}]},
   "mark":{"type":"text","font":"DejaVu Serif","fontSize":15,"align":"center","baseline":"middle","color":"black"},
   "encoding":{"x":{"field":"x","type":"quantitative","scale":{"type":"log","domain":[0.3,15],"nice":false},"axis":null},"y":{"field":"y","type":"quantitative","scale":{"type":"log","domain":[0.005,2],"nice":false},"axis":null},"text":{"field":"t","type":"nominal"}}}
 ]
}
]
}
